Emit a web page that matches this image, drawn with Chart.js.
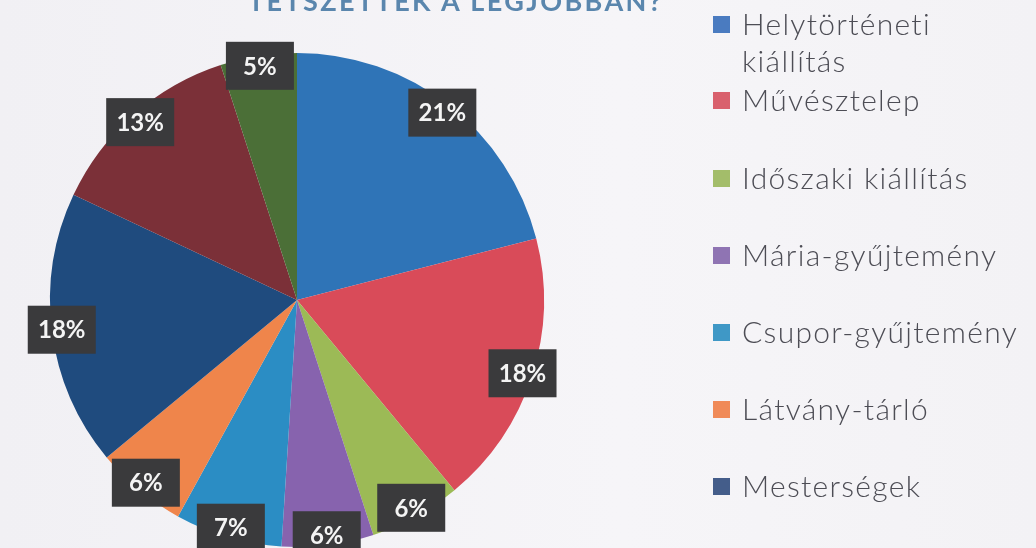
<!DOCTYPE html>
<html>
<head>
<meta charset="utf-8">
<script src="https://cdn.jsdelivr.net/npm/chart.js@4"></script>
<style>
  html, body { margin: 0; padding: 0; }
  body {
    width: 1036px; height: 548px; overflow: hidden; position: relative;
    background: linear-gradient(90deg, #f1f0f4 0%, #f6f5f8 60%, #f3f2f5 100%);
    font-family: Lato, "Open Sans", sans-serif;
  }
  #wrap { position: absolute; left: 0; top: 0; width: 1036px; height: 548px; }
  #title {
    position: absolute; left: 248px; top: -16px; white-space: nowrap;
    font-size: 27px; font-weight: 700; letter-spacing: 2.4px; color: #5a86ad;
  }
  #legend { position: absolute; left: 713px; top: 0; }
  .item { position: absolute; left: 0; white-space: nowrap; }
  .sw { position: absolute; left: 0; width: 17px; height: 17px; }
  .txt {
    position: absolute; left: 29px; font-size: 30px; font-weight: 300;
    letter-spacing: 1.3px; color: #4d4d55; line-height: 37px;
  }
</style>
</head>
<body>
<div id="wrap"><canvas id="pie" width="1036" height="548"></canvas></div>
<div id="title">TETSZETTEK A LEGJOBBAN?</div>
<div id="legend"></div>
<script>
const categories = [
  "Helytörténeti kiállítás", "Művésztelep", "Időszaki kiállítás", "Mária-gyűjtemény",
  "Csupor-gyűjtemény", "Látvány-tárló", "Mesterségek", "", ""
];
const legendLines = [
  ["Helytörténeti", "kiállítás"], ["Művésztelep"], ["Időszaki kiállítás"], ["Mária-gyűjtemény"],
  ["Csupor-gyűjtemény"], ["Látvány-tárló"], ["Mesterségek"], [""], [""]
];
const shares = [21, 18, 6, 6, 7, 6, 18, 13, 5];
const sliceColors = ["#2f74b7", "#d94b59", "#9cba56", "#8763ae", "#2b8dc4", "#ef854b", "#1f4b7e", "#7b3038", "#4b6f37"];
const legendColors = ["#4a7bc0", "#d9606d", "#a3bd6a", "#8f74b3", "#3f98c6", "#f08a58", "#445d8a", "#8a4a50", "#5e7f4a"];

// legend on the right (HTML, last two items fall below the picture edge)
const legendTops = [5, 81, 159, 236, 313, 390, 467, 545, 622];
const legendBox = document.getElementById("legend");
for (let i = 0; i < categories.length; i++) {
  let item = document.createElement("div");
  item.className = "item";
  item.style.top = legendTops[i] + "px";
  let sw = document.createElement("div");
  sw.className = "sw";
  sw.style.top = "11px";
  sw.style.background = legendColors[i];
  item.appendChild(sw);
  let txt = document.createElement("div");
  txt.className = "txt";
  txt.innerHTML = legendLines[i].join("<br>");
  item.appendChild(txt);
  legendBox.appendChild(item);
}

const boxLabels = {
  id: "boxLabels",
  afterDatasetsDraw(chart) {
    const ctx = chart.ctx;
    const arcs = chart.getDatasetMeta(0).data;
    ctx.save();
    ctx.font = "bold 24px Lato, sans-serif";
    ctx.textAlign = "center";
    ctx.textBaseline = "middle";
    arcs.forEach(function (arc, i) {
      const p = arc.getProps(["x", "y", "startAngle", "endAngle", "outerRadius"], true);
      const mid = (p.startAngle + p.endAngle) / 2;
      const d = p.outerRadius * 0.96;
      const cx = p.x + Math.cos(mid) * d;
      const cy = p.y + Math.sin(mid) * d;
      const w = 68, h = 48;
      ctx.fillStyle = "#3a3a3c";
      ctx.fillRect(cx - w / 2, cy - h / 2, w, h);
      ctx.fillStyle = "#f4f4f4";
      ctx.fillText(shares[i] + "%", cx, cy + 1);
    });
    ctx.restore();
  },
};

new Chart(document.getElementById("pie"), {
  type: "pie",
  data: {
    labels: categories,
    datasets: [
      {
        data: shares,
        backgroundColor: sliceColors,
        borderWidth: 0,
      },
    ],
  },
  options: {
    responsive: false,
    animation: false,
    layout: { padding: { left: 50, right: 492, top: 52, bottom: 0 } },
    plugins: {
      legend: { display: false },
      tooltip: { enabled: false },
    },
  },
  plugins: [boxLabels],
});
</script>
</body>
</html>
